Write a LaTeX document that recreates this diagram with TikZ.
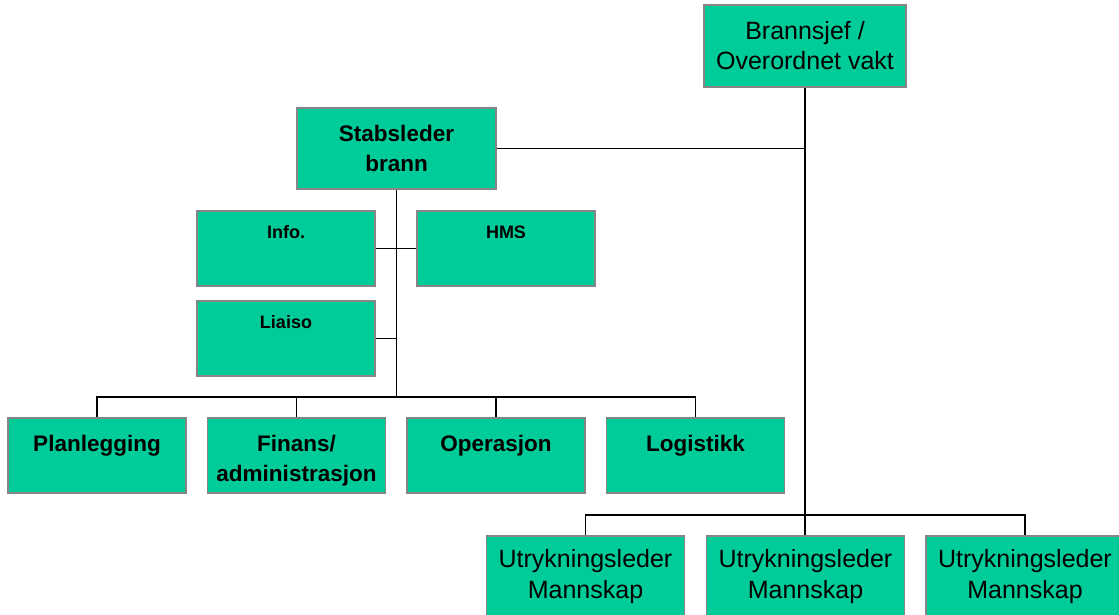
\documentclass[tikz,border=0pt]{standalone}
\usepackage{fontspec}
\setmainfont{Liberation Sans}
\usetikzlibrary{positioning}
\definecolor{boxgreen}{HTML}{00CC99}
\definecolor{boxedge}{HTML}{858585}
\tikzset{
  box/.style={draw=boxedge,fill=boxgreen,line width=1.5pt,inner sep=0pt,align=center},
  chief/.style={box,minimum width=202pt,minimum height=82pt,font=\fontsize{25pt}{30pt}\selectfont},
  crew/.style={box,minimum width=198pt,minimum height=82pt,font=\fontsize{25pt}{31pt}\selectfont},
  lead/.style={box,minimum width=199pt,minimum height=81pt,font=\fontsize{22.5pt}{30pt}\selectfont\bfseries},
  staffbox/.style={box,minimum width=178pt,text height=27pt,text depth=48pt,font=\fontsize{18pt}{24pt}\selectfont\bfseries},
  unit/.style={box,minimum width=178pt,text height=33pt,text depth=42pt,font=\fontsize{22.5pt}{30pt}\selectfont\bfseries},
  link/.style={line width=1.6pt}
}
\begin{document}
\begin{tikzpicture}[x=1pt,y=-1pt,on grid,node distance=199.5pt]
    \useasboundingbox (0,0) rectangle (1119,615);
    \node[chief](chief) at (805,46){Brannsjef /\\Overordnet vakt};
    \node[lead](staff) at (396.5,148.5){Stabsleder\\brann};
    \node[staffbox](info) at (286,248.5){Info.};
    \node[staffbox](hms)[right=220pt of info]{HMS};
    \node[staffbox](liaiso)[below=90pt of info]{Liaiso};
    \node[unit](plan) at (97,455.5){Planlegging};
    \node[unit,text height=63pt,text depth=12pt](fin)[right=of plan]{Finans/\\administrasjon};
    \node[unit](ops)[right=of fin]{Operasjon};
    \node[unit](log)[right=of ops]{Logistikk};
    \node[crew](u1) at (585.5,577){Utrykningsleder\\Mannskap};
    \node[crew](u2)[right=220pt of u1]{Utrykningsleder\\Mannskap};
    \node[crew](u3)[right=219.5pt of u2]{Utrykningsleder\\Mannskap};
    \coordinate (sbus) at (396,397);
    \coordinate (ubus) at (805,515);
    \draw[link] (chief.south) -- (chief.south |- u2.north);
    \draw[link] (u1.north) |- (ubus) -| (u3.north);
    \draw[link] (staff.east) -- (staff.east -| chief.south);
    \draw[link] (staff.south) -- (staff.south |- sbus);
    \draw[link] (info.east) -- (hms.west);
    \draw[link] (liaiso.east) -- (liaiso.east -| staff.south);
    \draw[link] (plan.north) |- (sbus) -| (log.north);
    \draw[link] (fin.north) -- (fin.north |- sbus);
    \draw[link] (ops.north) -- (ops.north |- sbus);
  \end{tikzpicture}
\end{document}
